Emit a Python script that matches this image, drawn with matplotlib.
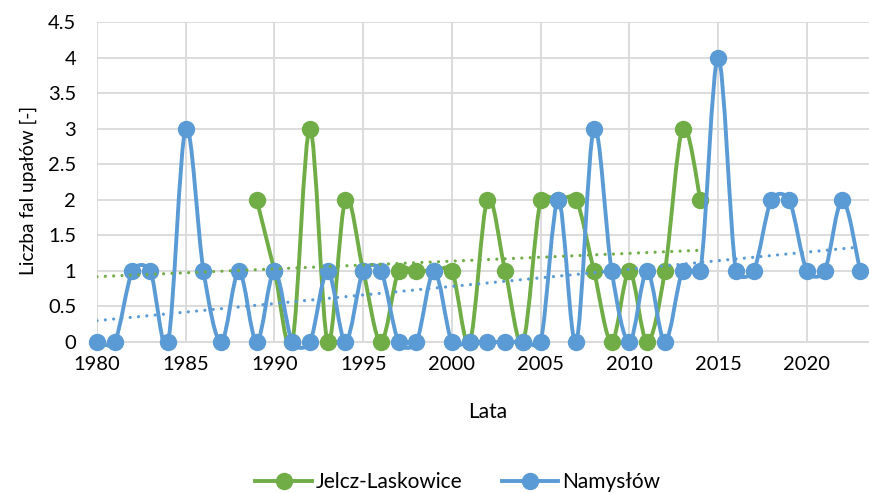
import numpy as np
import matplotlib
matplotlib.use("Agg")
from matplotlib import pyplot as plt
from matplotlib.path import Path
from matplotlib.patches import PathPatch
from matplotlib.lines import Line2D

plt.rcParams['font.family'] = ['Lato', 'DejaVu Sans']

# dane
lata_n = list(range(1980, 2024))
namyslow = [0, 0, 1, 1, 0, 3, 1, 0, 1, 0, 1, 0, 0, 1, 0, 1, 1, 0, 0, 1, 0, 0,
            0, 0, 0, 0, 2, 0, 3, 1, 0, 1, 0, 1, 1, 4, 1, 1, 2, 2, 1, 1, 2, 1]
lata_j = list(range(1989, 2015))
jelcz = [2, 1, 0, 3, 0, 2, 1, 0, 1, 1, 1, 1, 0, 2, 1, 0, 2, 2, 2, 1, 0, 1, 0,
         1, 3, 2]
nazwy = ['Jelcz-Laskowice', 'Namysłów']
x_ticks = [1980, 1985, 1990, 1995, 2000, 2005, 2010, 2015, 2020]
y_ticks = [0, 0.5, 1, 1.5, 2, 2.5, 3, 3.5, 4, 4.5]

zielony = '#70AD47'
niebieski = '#5B9BD5'

x_min, x_max = 1980, 2023.5
y_min, y_max = 0, 4.5
szer_px, wys_px = 772, 320
sx = szer_px / (x_max - x_min)  # piksele na rok
sy = wys_px / (y_max - y_min)


def odl(p, q):
    return np.hypot((p[0] - q[0]) * sx, (p[1] - q[1]) * sy)


def gladka_linia(x, y):  # wygladzona linia jak w Excelu (krzywe Beziera)
    pts = list(zip(x, y))
    pts = [pts[0]] + pts + [pts[-1]]
    verts = [pts[1]]
    codes = [Path.MOVETO]
    for i in range(1, len(pts) - 2):
        p0, p1, p2, p3 = pts[i - 1], pts[i], pts[i + 1], pts[i + 2]
        d02 = odl(p0, p2)
        d12 = odl(p1, p2)
        d13 = odl(p1, p3)
        f0 = 1 / 6
        f3 = 1 / 6
        if d02 / 6 >= d12 / 2 and d02 > 0:
            f0 = d12 / d02 / 2
        if d13 / 6 >= d12 / 2 and d13 > 0:
            f3 = d12 / d13 / 2
        c1 = (p1[0] + (p2[0] - p0[0]) * f0, p1[1] + (p2[1] - p0[1]) * f0)
        c2 = (p2[0] - (p3[0] - p1[0]) * f3, p2[1] - (p3[1] - p1[1]) * f3)
        verts += [c1, c2, p2]
        codes += [Path.CURVE4] * 3
    return Path(verts, codes)


fig = plt.figure(figsize=(8.69, 4.93), dpi=100)
ax = fig.add_axes([97 / 869, 1 - 342 / 493, szer_px / 869, wys_px / 493])

for xs, ys, kolor, z in [(lata_j, jelcz, zielony, 3), (lata_n, namyslow, niebieski, 4)]:
    ax.add_patch(PathPatch(gladka_linia(xs, ys), facecolor='none', edgecolor=kolor,
                           lw=2.8, zorder=z, clip_on=False, capstyle='round'))
    ax.plot(xs, ys, 'o', color=kolor, ms=11.5, zorder=z, clip_on=False)

# linie trendu
a, b = np.polyfit(lata_j, jelcz, 1)
xt = np.array([1980, lata_j[-1]])
ax.plot(xt, a * xt + b, color=zielony, lw=2.3, ls=(0, (0.01, 2.6)),
        dash_capstyle='round', zorder=5)
a, b = np.polyfit(lata_n, namyslow, 1)
xt = np.array([1980, lata_n[-1]])
ax.plot(xt, a * xt + b, color=niebieski, lw=2.3, ls=(0, (0.01, 2.6)),
        dash_capstyle='round', zorder=5)

ax.set_xlim(x_min, x_max)
ax.set_ylim(y_min, y_max)
ax.set_xticks(x_ticks)
ax.set_yticks(y_ticks)
ax.set_yticklabels([('%g' % v) for v in y_ticks])
ax.grid(True, color='#D9D9D9', lw=1.3)
ax.set_axisbelow(True)
for s in ['top', 'right', 'left']:
    ax.spines[s].set_visible(False)
ax.spines['bottom'].set_color('#D9D9D9')
ax.spines['bottom'].set_linewidth(1.3)
ax.tick_params(length=0, labelsize=14.5, colors='#000000')
ax.tick_params(axis='x', pad=10)
ax.tick_params(axis='y', pad=15)
ax.set_xlabel('Lata', fontsize=15)
ax.set_ylabel('Liczba fal upałów [-]', fontsize=13.8)
ax.xaxis.set_label_coords((488 - 97) / szer_px, -(412 - 342) / wys_px)
ax.yaxis.set_label_coords(-(97 - 28) / szer_px, (342 - 190) / wys_px)
ax.xaxis.label.set_va('center')
ax.yaxis.label.set_va('center')

uchwyty = [Line2D([], [], color=zielony, lw=2.8, marker='o', ms=11.5),
           Line2D([], [], color=niebieski, lw=2.8, marker='o', ms=11.5)]
fig.legend(uchwyty, nazwy, loc='center', bbox_to_anchor=(0.527, 0.022), ncol=2,
           frameon=False, fontsize=15, handlelength=2.7, columnspacing=1.9,
           handletextpad=0.2)

fig.savefig('out.png', dpi=100)
